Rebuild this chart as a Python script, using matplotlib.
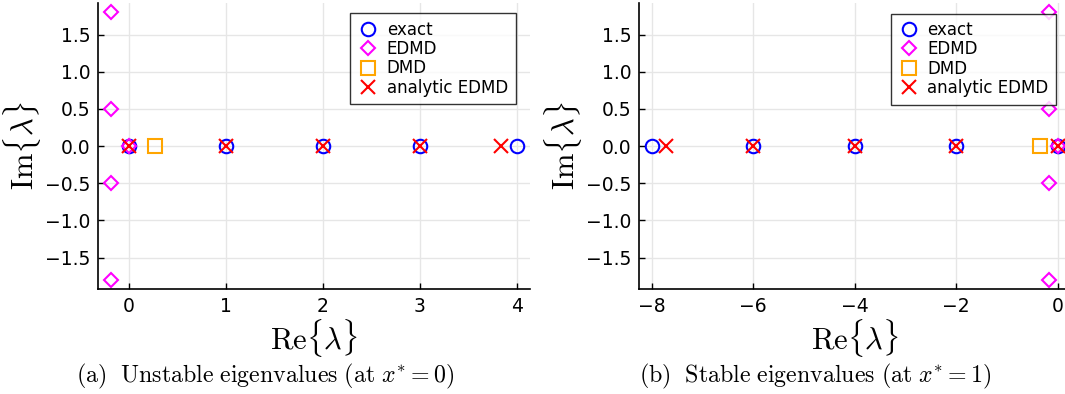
import matplotlib
matplotlib.use("Agg")
import matplotlib.pyplot as plt
import numpy as np

plt.rcParams['mathtext.fontset'] = 'cm'
plt.rcParams['font.family'] = ['DejaVu Sans']

# Panel (a): unstable eigenvalues
a_exact_re = [0, 1, 2, 3, 4]
a_exact_im = [0, 0, 0, 0, 0]
a_edmd_re = [-0.18, -0.18, -0.18, -0.18, 0.0]
a_edmd_im = [1.8, 0.5, -0.5, -1.8, 0.0]
a_dmd_re = [0.275]
a_dmd_im = [0.0]
a_an_re = [0, 1, 2, 3, 3.84]
a_an_im = [0, 0, 0, 0, 0]
a_xticks = [0, 1, 2, 3, 4]

# Panel (b): stable eigenvalues
b_exact_re = [-8, -6, -4, -2, 0]
b_exact_im = [0, 0, 0, 0, 0]
b_edmd_re = [-0.18, -0.18, -0.18, -0.18, 0.0]
b_edmd_im = [1.8, 0.5, -0.5, -1.8, 0.0]
b_dmd_re = [-0.35]
b_dmd_im = [0.0]
b_an_re = [-7.72, -6, -4, -2, 0]
b_an_im = [0, 0, 0, 0, 0]
b_xticks = [-8, -6, -4, -2, 0]

yticks = [-1.5, -1.0, -0.5, 0.0, 0.5, 1.0, 1.5]

W, H = 1065, 394
fig = plt.figure(figsize=(W / 100, H / 100), dpi=100)

def px_axes(l, r, b, t):
    return fig.add_axes([l / W, 1 - b / H, (r - l) / W, (b - t) / H])

ax1 = px_axes(98.3, 529.5, 289.3, 3.0)
ax2 = px_axes(639.3, 1070.0, 289.3, 3.0)

def draw(ax, exre, exim, edre, edim, dre, dim, anre, anim, xlim, xticks, leg_anchor):
    ax.plot(exre, exim, linestyle='none', marker='o', ms=9.7, mfc='none',
            mec='#0000ff', mew=1.5, label='exact')
    ax.plot(edre, edim, linestyle='none', marker='D', ms=7.5, mfc='none',
            mec='#ff00ff', mew=1.5, label='EDMD')
    ax.plot(dre, dim, linestyle='none', marker='s', ms=10.5, mfc='none',
            mec='#ffa500', mew=1.5, label='DMD')
    ax.plot(anre, anim, linestyle='none', marker='x', ms=10, mfc='none',
            mec='#ff0000', mew=1.5, label='analytic EDMD')
    ax.set_xlim(*xlim)
    ax.set_ylim(-1.926, 1.926)
    ax.set_xticks(xticks)
    ax.set_yticks(yticks)
    ax.set_yticklabels([f'{v:.1f}'.replace('-', '\u2212') for v in yticks])
    ax.set_xticklabels([str(v).replace('-', '\u2212') for v in xticks])
    ax.tick_params(direction='in', length=4, width=1, labelsize=13.5, pad=5.5)
    ax.grid(True, color='#e6e6e6', linewidth=1)
    ax.set_axisbelow(True)
    for s in ['top', 'right']:
        ax.spines[s].set_visible(False)
    for s in ['left', 'bottom']:
        ax.spines[s].set_linewidth(1.2)
    ax.set_xlabel(r'$\mathrm{Re}\{\lambda\}$', fontsize=22, labelpad=0.5)
    ax.set_ylabel(r'$\mathrm{Im}\{\lambda\}$', fontsize=22, labelpad=2)
    leg = ax.legend(loc='upper right', fontsize=12, frameon=True, fancybox=False,
                    borderpad=0.45, labelspacing=0.08, handletextpad=0.45,
                    handlelength=1.3, borderaxespad=0.0,
                    bbox_to_anchor=(leg_anchor[0] / W, 1 - leg_anchor[1] / H),
                    bbox_transform=fig.transFigure)
    leg.get_frame().set_edgecolor('black')
    leg.get_frame().set_linewidth(1.0)
    return leg

draw(ax1, a_exact_re, a_exact_im, a_edmd_re, a_edmd_im, a_dmd_re, a_dmd_im,
     a_an_re, a_an_im, (-0.313, 4.13), a_xticks, (515.5, 13.3))
draw(ax2, b_exact_re, b_exact_im, b_edmd_re, b_edmd_im, b_dmd_re, b_dmd_im,
     b_an_re, b_an_im, (-8.244, 0.24), b_xticks, (1056, 13.5))

fig.text(265 / W, 1 - 376 / H,
         r'$\mathrm{(a)\ \ Unstable\ eigenvalues\ (at\ }x^{*}=0\mathrm{)}$',
         ha='center', va='center', fontsize=17.2)
fig.text(815 / W, 1 - 376 / H,
         r'$\mathrm{(b)\ \ Stable\ eigenvalues\ (at\ }x^{*}=1\mathrm{)}$',
         ha='center', va='center', fontsize=17.2)

fig.savefig('out.png', dpi=100)
